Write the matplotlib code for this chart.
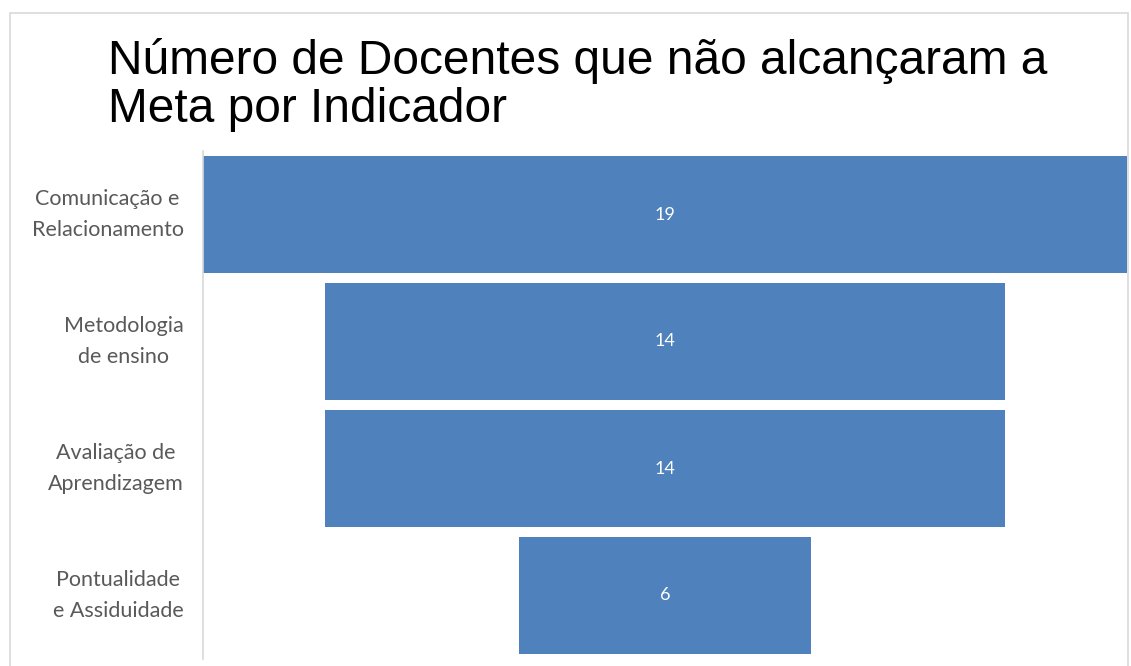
import matplotlib.pyplot as plt
from matplotlib.patches import Rectangle

# Funnel data, top to bottom.
categories = ['Comunicação e\nRelacionamento', 'Metodologia\nde ensino',
              'Avaliação de\nAprendizagem', 'Pontualidade\ne Assiduidade']
values = [19, 14, 14, 6]
title = 'Número de Docentes que não alcançaram a\nMeta por Indicador'

barColor = '#4F81BD'
labelColor = '#595959'

fig = plt.figure(figsize=(11.31, 6.66), dpi=100)

# Light frame round the chart area.
fig.patches.append(Rectangle((10 / 1131, -0.05), 1118 / 1131, 1.05 - 13 / 666,
                             transform=fig.transFigure, fill=False,
                             edgecolor='#D9D9D9', linewidth=1.2))

ax = fig.add_axes([203 / 1131, 1 - 659 / 666, 924 / 1131, 508 / 666])

# Centre each bar on the widest one to make the funnel.
maxVal = max(values)
ys = list(range(len(values)))
lefts = [(maxVal - v) / 2 for v in values]
bars = ax.barh(ys, values, left=lefts, height=0.92, color=barColor)

for b, v in zip(bars, values):
    ax.text(b.get_x() + b.get_width() / 2, b.get_y() + b.get_height() / 2, str(v),
            ha='center', va='center', color='white', fontsize=13, family='Lato')

ax.set_xlim(0, maxVal)
ax.set_ylim(len(values) - 0.5, -0.5)
ax.set_xticks([])
ax.set_yticks(ys)
ax.set_yticklabels(categories, fontsize=15.5, color=labelColor, family='Lato',
                   multialignment='center', linespacing=1.7, va='center')
ax.tick_params(axis='y', length=0, pad=14)

for side in ['top', 'right', 'bottom']:
    ax.spines[side].set_visible(False)
ax.spines['left'].set_color('#D9D9D9')
ax.spines['left'].set_linewidth(1.2)

fig.text(108 / 1131, 1 - 38 / 666, title, ha='left', va='top', fontsize=34.5,
         family='Liberation Sans', color='black', linespacing=1.1)

fig.savefig('out.png', dpi=100)
